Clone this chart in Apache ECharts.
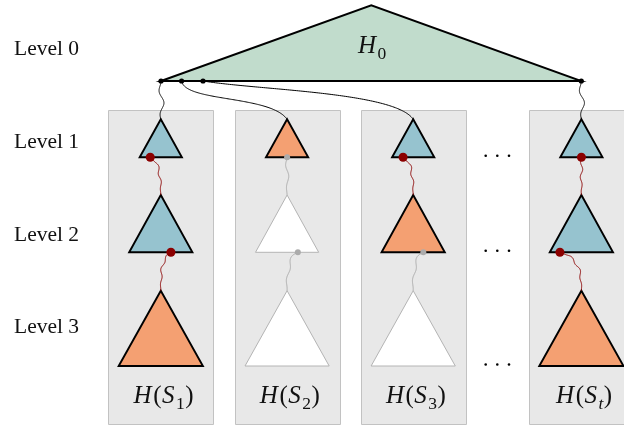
<!DOCTYPE html>
<html><head><meta charset="utf-8">
<script src="https://cdn.jsdelivr.net/npm/echarts@6/dist/echarts.min.js"></script>
<style>html,body{margin:0;padding:0;background:#fff}#c{width:624px;height:426px}</style>
</head><body><div id="c"></div>
<script>
// ---------------- data ----------------
const levelNames = ['Level 0', 'Level 1', 'Level 2', 'Level 3'];
const rootName = 'H';
const rootSub = '0';
const setNames = ['S', 'S', 'S', 'S'];
const setSubs = ['1', '2', '3', 't'];
const kindsS1 = ['blue', 'blue', 'orange'];
const kindsS2 = ['orange', 'white', 'white'];
const kindsS3 = ['blue', 'orange', 'white'];
const kindsSt = ['blue', 'blue', 'orange'];
const activeS1 = [1, 1];
const activeS2 = [0, 0];
const activeS3 = [1, 0];
const activeSt = [1, 1];
const attachS1 = [-0.25, 0.16];
const attachS2 = [0.0, 0.17];
const attachS3 = [-0.24, 0.16];
const attachSt = [0.0, -0.34];
const rootAttach = [0, 0.049, 0.1, 1];
const ellipsisLevels = [1, 2, 3];

// ---------------- layout / style ----------------
const W = 624, H = 426;
const L = {
  colX: [160.8, 287.1, 413.2, 581.4],
  boxHalfW: 52.5, boxTop: 109.5, boxBottom: 423.3,
  apexY: [5.3, 119.3, 195.0, 290.7],
  baseY: [81.0, 157.3, 252.3, 366.0],
  halfW: [0, 21.1, 31.6, 42.1],
  rootLeft: 161.0, rootRight: 581.3, rootApexX: 371.3,
  labelX: 14, labelBase: [56.5, 149.3, 242.5, 334.5],
  setLabelBase: 405, rootLabelBase: 55,
  ellipsisX: [485.7, 497.3, 509.0],
  rootLinkShape: [null, [0.03, 0.55, 0.16, 0.63], [0.27, 0.24, 0.086, 0.71], null]
};
const COL = { blue: '#96c3cf', orange: '#f4a072', white: '#ffffff', green: '#c1dccc',
  box: '#e8e8e8', boxStroke: '#c2c2c2', red: '#8b0000', gray: '#ababab' };
const LEVEL_FONT = 21.5, MATH_FONT = 25, SUB_FONT = 17.5;
const FAM = '"Liberation Serif", "Times New Roman", serif';

const kindsBySet = [kindsS1, kindsS2, kindsS3, kindsSt];
const activeBySet = [activeS1, activeS2, activeS3, activeSt];
const attachBySet = [attachS1, attachS2, attachS3, attachSt];

const mctx = document.createElement('canvas').getContext('2d');
function tw(font, s) { mctx.font = font; return mctx.measureText(s).width; }

function bez(p0, p1, p2, p3, t) {
  const u = 1 - t;
  return [u*u*u*p0[0] + 3*u*u*t*p1[0] + 3*u*t*t*p2[0] + t*t*t*p3[0],
          u*u*u*p0[1] + 3*u*u*t*p1[1] + 3*u*t*t*p2[1] + t*t*t*p3[1]];
}
function snake(p0, p1, p2, p3, amp, wl) {
  const N = 120, raw = [];
  for (let i = 0; i <= N; i++) raw.push(bez(p0, p1, p2, p3, i / N));
  const out = []; let s = 0;
  for (let i = 0; i <= N; i++) {
    if (i > 0) s += Math.hypot(raw[i][0] - raw[i-1][0], raw[i][1] - raw[i-1][1]);
    const a = raw[Math.max(0, i-1)], b = raw[Math.min(N, i+1)];
    let dx = b[0] - a[0], dy = b[1] - a[1]; const len = Math.hypot(dx, dy) || 1;
    const nx = -dy / len, ny = dx / len;
    const taper = Math.sin(Math.PI * i / N);
    const off = amp * taper * Math.sin(2 * Math.PI * s / wl);
    out.push([raw[i][0] + nx * off, raw[i][1] + ny * off]);
  }
  return out;
}
function mapPts(api, pts) { return pts.map(p => api.coord(p)); }

function mathLabel(api, cx, base, parts) {
  const fonts = parts.map(p => (p.it ? 'italic ' : '') + (p.sub ? SUB_FONT : MATH_FONT) + 'px ' + FAM);
  const ws = parts.map((p, i) => tw(fonts[i], p.t) + (p.it && !p.sub ? 1.5 : 0.5));
  const total = ws.reduce((a, b) => a + b, 0);
  let x = cx - total / 2;
  const els = [];
  parts.forEach((p, i) => {
    const size = p.sub ? SUB_FONT : MATH_FONT;
    const b = p.sub ? base + 5 : base;
    const pt = api.coord([x, b - 0.34 * size]);
    els.push({ type: 'text', x: pt[0], y: pt[1],
      style: { text: p.t, font: fonts[i], fill: '#111', align: 'left', verticalAlign: 'middle' } });
    x += ws[i];
  });
  return els;
}

// flattened items
const triItems = [];
kindsBySet.forEach((ks, s) => ks.forEach((k, j) => triItems.push([s, j + 1])));
const linkItems = [];
activeBySet.forEach((as, s) => as.forEach((a, j) => linkItems.push([s, j + 1])));

function dotPos(s, lv) {
  return [L.colX[s] + attachBySet[s][lv - 1] * 2 * L.halfW[lv], L.baseY[lv]];
}

const chart = echarts.init(document.getElementById('c'), null, { renderer: 'canvas', width: W, height: H });
chart.setOption({
  animation: false,
  grid: { left: 0, right: 0, top: 0, bottom: 0 },
  xAxis: { type: 'value', min: 0, max: W, show: false },
  yAxis: { type: 'value', min: 0, max: H, inverse: true, show: false },
  series: [
    { // boxes
      type: 'custom', silent: true, z: 1, data: setNames.map((n, i) => [i, 0]),
      renderItem: (params, api) => {
        const i = params.dataIndex, cx = L.colX[i];
        const a = api.coord([cx - L.boxHalfW, L.boxTop]), b = api.coord([cx + L.boxHalfW, L.boxBottom]);
        return { type: 'rect', shape: { x: Math.round(a[0]) + 0.5, y: Math.round(a[1]) + 0.5, width: Math.round(b[0] - a[0]), height: Math.round(b[1] - a[1]) },
          style: { fill: COL.box, stroke: COL.boxStroke, lineWidth: 1 } };
      }
    },
    { // root triangle H0
      type: 'custom', silent: true, z: 2, data: [[0, 0]],
      renderItem: (params, api) => ({
        type: 'polygon',
        shape: { points: mapPts(api, [[L.rootLeft, L.baseY[0]], [L.rootApexX, L.apexY[0]], [L.rootRight, L.baseY[0]]]) },
        style: { fill: COL.green, stroke: '#000', lineWidth: 1.9, lineJoin: 'miter' }
      })
    },
    { // root -> level-1 links
      type: 'custom', silent: true, z: 3, data: rootAttach.map((f, i) => [i, f]),
      renderItem: (params, api) => {
        const i = params.dataIndex, f = rootAttach[i];
        const p0 = [L.rootLeft + f * (L.rootRight - L.rootLeft), L.baseY[0]];
        const p3 = [L.colX[i], L.apexY[1]];
        const dx = p3[0] - p0[0], dy = p3[1] - p0[1];
        let pts;
        const sh = L.rootLinkShape[i];
        if (!sh) {
          pts = snake(p0, [p0[0], p0[1] + dy * 0.4], [p3[0], p3[1] - dy * 0.4], p3, 3.2, 30);
        } else {
          pts = snake(p0, [p0[0] + sh[0] * dx, p0[1] + sh[1] * dy], [p3[0] - sh[2] * dx, p3[1] - sh[3] * dy], p3, 0, 10);
        }
        return { type: 'polyline', shape: { points: mapPts(api, pts) }, style: { stroke: '#000', lineWidth: 1, fill: null } };
      }
    },
    { // level triangles
      type: 'custom', silent: true, z: 4, data: triItems,
      renderItem: (params, api) => {
        const [s, lv] = triItems[params.dataIndex];
        const kind = kindsBySet[s][lv - 1];
        const cx = L.colX[s], hw = L.halfW[lv];
        const white = kind === 'white';
        return { type: 'polygon',
          shape: { points: mapPts(api, [[cx - hw, L.baseY[lv]], [cx, L.apexY[lv]], [cx + hw, L.baseY[lv]]]) },
          style: { fill: COL[kind], stroke: white ? '#b4b4b4' : '#000', lineWidth: white ? 1 : 1.9, lineJoin: 'miter' } };
      }
    },
    { // in-set links
      type: 'custom', silent: true, z: 5, data: linkItems,
      renderItem: (params, api) => {
        const [s, lv] = linkItems[params.dataIndex];
        const act = activeBySet[s][lv - 1];
        const p0 = dotPos(s, lv), p3 = [L.colX[s], L.apexY[lv + 1]];
        const dx = p3[0] - p0[0], dy = p3[1] - p0[1];
        const pts = snake(p0, [p0[0] + 0.85 * dx, p0[1] + 0.12 * dy], [p3[0], p3[1] - 0.5 * dy], p3, act ? 1.3 : 1.8, act ? 16 : 26);
        return { type: 'polyline', shape: { points: mapPts(api, pts) },
          style: { stroke: act ? COL.red : COL.gray, lineWidth: 1, fill: null } };
      }
    },
    { // dots
      type: 'custom', silent: true, z: 6, data: rootAttach.map((f, i) => [i, f]),
      renderItem: (params, api) => {
        const i = params.dataIndex, f = rootAttach[i];
        const children = [];
        const rp = api.coord([L.rootLeft + f * (L.rootRight - L.rootLeft), L.baseY[0]]);
        children.push({ type: 'circle', shape: { cx: rp[0], cy: rp[1], r: 2.6 }, style: { fill: '#000' } });
        activeBySet[i].forEach((a, j) => {
          const p = api.coord(dotPos(i, j + 1));
          children.push({ type: 'circle', shape: { cx: p[0], cy: p[1], r: a ? 4.5 : 3 }, style: { fill: a ? COL.red : COL.gray } });
        });
        return { type: 'group', children };
      }
    },
    { // ellipsis between set 3 and set t
      type: 'custom', silent: true, z: 6, data: ellipsisLevels.map(l => [l, 0]),
      renderItem: (params, api) => {
        const lv = ellipsisLevels[params.dataIndex];
        return { type: 'group', children: L.ellipsisX.map(x => {
          const p = api.coord([x, L.baseY[lv] - 1.5]);
          return { type: 'circle', shape: { cx: p[0], cy: p[1], r: 1.3 }, style: { fill: '#000' } };
        }) };
      }
    },
    { // level labels
      type: 'custom', silent: true, z: 7, data: levelNames.map((n, i) => [i, 0]),
      renderItem: (params, api) => {
        const i = params.dataIndex;
        const p = api.coord([L.labelX, L.labelBase[i] - 0.34 * LEVEL_FONT]);
        return { type: 'text', x: p[0], y: p[1],
          style: { text: levelNames[i], font: LEVEL_FONT + 'px ' + FAM, fill: '#111', align: 'left', verticalAlign: 'middle' } };
      }
    },
    { // set labels H(S_i)
      type: 'custom', silent: true, z: 7, data: setNames.map((n, i) => [i, 0]),
      renderItem: (params, api) => {
        const i = params.dataIndex;
        const subIt = /[a-z]/.test(setSubs[i]);
        return { type: 'group', children: mathLabel(api, L.colX[i] + 3, L.setLabelBase, [
          { t: 'H', it: true }, { t: '(' }, { t: setNames[i], it: true }, { t: setSubs[i], sub: true, it: subIt }, { t: ')' }
        ]) };
      }
    },
    { // root label H0
      type: 'custom', silent: true, z: 7, data: [[0, 0]],
      renderItem: (params, api) => ({ type: 'group', children: mathLabel(api, L.rootApexX + 1, L.rootLabelBase, [
        { t: rootName, it: true }, { t: rootSub, sub: true }
      ]) })
    }
  ]
});
</script></body></html>
